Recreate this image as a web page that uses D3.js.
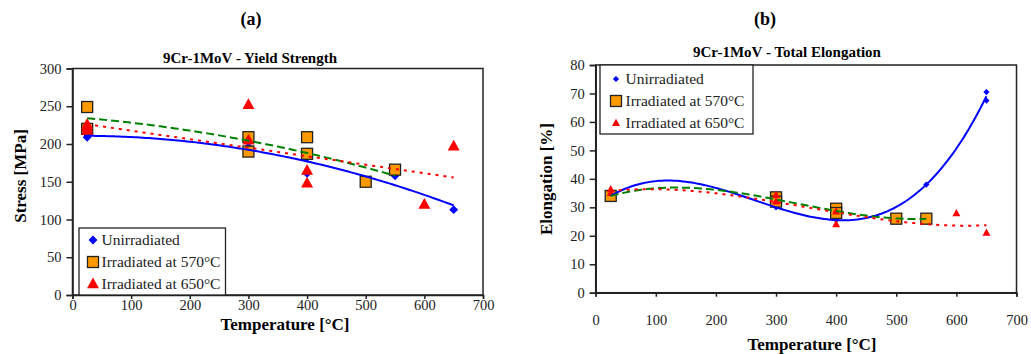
<!DOCTYPE html>
<html>
<head>
<meta charset="utf-8">
<script src="https://cdn.jsdelivr.net/npm/d3@7"></script>
<style>
  body { margin: 0; background: #fff; }
  svg text { font-family: "Liberation Serif", "Times New Roman", Tinos, "DejaVu Serif", serif !important; }
</style>
</head>
<body>
<div id="chart"></div>
<script>
// --- data: [temperature °C, value] ---
const yieldUnirr = [[25, 209], [25, 213], [300, 196], [400, 182], [400, 161], [550, 158], [650, 113]];
const yield570 = [[25, 249], [25, 220], [300, 209], [300, 190], [400, 209], [400, 187], [500, 150], [550, 166]];
const yield650 = [[25, 226], [25, 222], [25, 218], [300, 252], [300, 205], [400, 165], [400, 148], [600, 120], [650, 197]];

const elongUnirr = [[25, 34], [300, 30], [400, 25.5], [550, 38], [650, 70.5], [650, 67.5]];
const elong570 = [[25, 34], [300, 33.5], [300, 32], [400, 29.5], [400, 28], [500, 26], [550, 26]];
const elong650 = [[25, 36.3], [25, 35], [300, 34.3], [300, 32], [400, 28.5], [400, 24], [600, 27.9], [650, 21]];

const seriesNames = ["Unirradiated", "Irradiated at 570°C", "Irradiated at 650°C"];
const xTicks = [0, 100, 200, 300, 400, 500, 600, 700];
const yTicksA = [0, 50, 100, 150, 200, 250, 300];
const yTicksB = [0, 10, 20, 30, 40, 50, 60, 70, 80];

const width = 1031;
const height = 354;
const serif = "'Liberation Serif', 'Times New Roman', serif";

let svg = d3.select("#chart").append("svg")
  .attr("width", width)
  .attr("height", height);

// least squares polynomial (like the Excel trendline)
function polyfit(pts, order) {
  const n = order + 1;
  let A = [], b = [];
  for (let i = 0; i < n; i++) { A.push(new Array(n).fill(0)); b.push(0); }
  pts.forEach(([x0, y]) => {
    const x = x0 / 100;
    for (let i = 0; i < n; i++) {
      for (let j = 0; j < n; j++) A[i][j] += Math.pow(x, i + j);
      b[i] += y * Math.pow(x, i);
    }
  });
  // gauss elimination
  for (let k = 0; k < n; k++) {
    let p = k;
    for (let i = k + 1; i < n; i++) if (Math.abs(A[i][k]) > Math.abs(A[p][k])) p = i;
    [A[k], A[p]] = [A[p], A[k]]; [b[k], b[p]] = [b[p], b[k]];
    for (let i = k + 1; i < n; i++) {
      const f = A[i][k] / A[k][k];
      for (let j = k; j < n; j++) A[i][j] -= f * A[k][j];
      b[i] -= f * b[k];
    }
  }
  let c = new Array(n).fill(0);
  for (let i = n - 1; i >= 0; i--) {
    let s = b[i];
    for (let j = i + 1; j < n; j++) s -= A[i][j] * c[j];
    c[i] = s / A[i][i];
  }
  return x0 => c.reduce((s, ci, i) => s + ci * Math.pow(x0 / 100, i), 0);
}

function marker(g, type, size) {
  if (type === "diamond") {
    g.append("path").attr("d", d3.symbol(d3.symbolDiamond2, size * size * 0.5)())
      .attr("fill", "#0000ff");
  } else if (type === "square") {
    g.append("rect").attr("x", -size / 2).attr("y", -size / 2)
      .attr("width", size).attr("height", size)
      .attr("fill", "#ff9900").attr("stroke", "#222").attr("stroke-width", 1.3);
  } else {
    const h = size * 0.9;
    g.append("path").attr("d", `M0,${-h * 0.6}L${size / 2},${h * 0.4}L${-size / 2},${h * 0.4}Z`)
      .attr("fill", "#ff0000");
  }
}

function drawChart(cfg) {
  const x = d3.scaleLinear().domain([0, 700]).range([cfg.left, cfg.right]);
  const y = d3.scaleLinear().domain([0, cfg.yMax]).range([cfg.bottom, cfg.top]);
  let g = svg.append("g");

  // plot box
  g.append("rect").attr("x", cfg.left).attr("y", cfg.top)
    .attr("width", cfg.right - cfg.left).attr("height", cfg.bottom - cfg.top)
    .attr("fill", "none").attr("stroke", "#222").attr("stroke-width", 1.5);

  // axes
  let xAxis = d3.axisBottom(x).tickValues(xTicks).tickSize(4).tickPadding(cfg.xPad).tickFormat(d3.format("d"));
  let xg = g.append("g").attr("transform", `translate(0,${cfg.bottom})`).call(xAxis);
  let yAxis = d3.axisLeft(y).tickValues(cfg.yTicks).tickSize(6).tickPadding(5).tickFormat(d3.format("d"));
  let yg = g.append("g").attr("transform", `translate(${cfg.left},0)`).call(yAxis);
  [xg, yg].forEach(a => {
    a.attr("font-family", serif);
    a.select(".domain").attr("stroke", "#222").attr("stroke-width", 1.5);
    a.selectAll(".tick line").attr("stroke", "#222").attr("stroke-width", 1.5);
    a.selectAll("text").attr("font-size", 14.5).attr("fill", "#222");
  });

  // markers
  const types = ["diamond", "square", "triangle"];
  cfg.series.forEach((s, i) => {
    s.forEach(([t, v]) => {
      let m = g.append("g").attr("transform", `translate(${x(t)},${y(v)})`);
      marker(m, types[i], cfg.sizes[i]);
    });
  });

  // trendlines
  const colors = ["#0000ff", "#008000", "#ff0000"];
  const dashes = [null, "8,4", "3,5"];
  cfg.series.forEach((s, i) => {
    const f = polyfit(s, cfg.orders[i]);
    const [x0, x1] = d3.extent(s, d => d[0]);
    const xs = d3.range(x0, x1 + 0.1, 5);
    g.append("path")
      .attr("d", d3.line().x(t => x(t)).y(t => y(f(t)))(xs))
      .attr("fill", "none").attr("stroke", colors[i]).attr("stroke-width", 2)
      .attr("stroke-dasharray", dashes[i]);
  });

  // legend
  const L = cfg.legend;
  let lg = g.append("g");
  lg.append("rect").attr("x", L.x).attr("y", L.y).attr("width", L.w).attr("height", L.h)
    .attr("fill", "#fff").attr("stroke", "#222").attr("stroke-width", 1.3);
  seriesNames.forEach((name, i) => {
    let m = lg.append("g").attr("transform", `translate(${L.mx},${L.y0 + i * L.dy})`);
    marker(m, types[i], cfg.lsizes[i]);
    lg.append("text").attr("x", L.tx).attr("y", L.y0 + i * L.dy + 5)
      .attr("font-family", serif).attr("font-size", 15.5).attr("fill", "#222").text(name);
  });

  // titles
  svg.append("text").attr("x", cfg.tagX).attr("y", 25).attr("text-anchor", "middle")
    .attr("font-family", serif).attr("font-weight", "bold").attr("font-size", 18).text(cfg.tag);
  svg.append("text").attr("x", cfg.titleX).attr("y", cfg.titleY).attr("text-anchor", "middle")
    .attr("font-family", serif).attr("font-weight", "bold").attr("font-size", 15).text(cfg.title);
  svg.append("text").attr("x", cfg.xTitleX).attr("y", cfg.xTitleY).attr("text-anchor", "middle")
    .attr("font-family", serif).attr("font-weight", "bold").attr("font-size", 17).text("Temperature [°C]");
  svg.append("text").attr("transform", `translate(${cfg.yTitleX},${cfg.yTitleY}) rotate(-90)`)
    .attr("font-family", serif).attr("text-anchor", "middle").attr("font-weight", "bold")
    .attr("font-size", 17).text(cfg.yTitle);
}

drawChart({
  left: 72.5, right: 483, top: 68.5, bottom: 295, yMax: 300, yTicks: yTicksA, xPad: 1,
  series: [yieldUnirr, yield570, yield650], orders: [2, 2, 1],
  sizes: [10, 11, 12], lsizes: [10, 11, 12],
  legend: { x: 79, y: 228, w: 146.5, h: 67, mx: 93, tx: 101.5, y0: 240, dy: 22 },
  tag: "(a)", tagX: 251, title: "9Cr-1MoV - Yield Strength", titleX: 250, titleY: 63,
  xTitleX: 285, xTitleY: 330, yTitle: "Stress [MPa]", yTitleX: 26, yTitleY: 176
});

drawChart({
  left: 595.7, right: 1016.5, top: 65, bottom: 292.7, yMax: 80, yTicks: yTicksB, xPad: 18,
  series: [elongUnirr, elong570, elong650], orders: [3, 3, 3],
  sizes: [7, 11, 8], lsizes: [7, 11, 8],
  legend: { x: 600, y: 65, w: 153, h: 69, mx: 616, tx: 625.5, y0: 79, dy: 22 },
  tag: "(b)", tagX: 765, title: "9Cr-1MoV - Total Elongation", titleX: 787, titleY: 57,
  xTitleX: 812, xTitleY: 350, yTitle: "Elongation [%]", yTitleX: 552, yTitleY: 179
});
</script>
</body>
</html>
